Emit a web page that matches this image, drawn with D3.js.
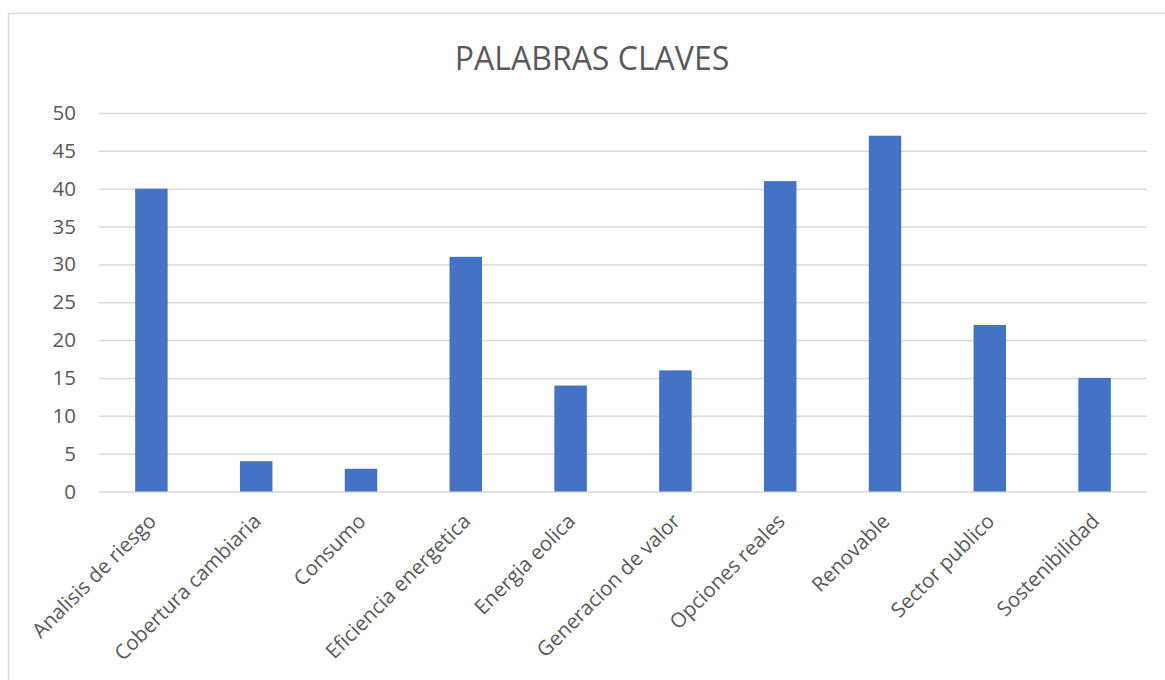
<!DOCTYPE html>
<html>
<head>
<meta charset="utf-8">
<script src="https://cdn.jsdelivr.net/npm/d3@7"></script>
<style>
  body { margin: 0; background: #fff; }
  svg { display: block; font-family: 'Open Sans', sans-serif; }
</style>
</head>
<body>
<svg></svg>
<script>
const categories = ['Analisis de riesgo', 'Cobertura cambiaria', 'Consumo', 'Eficiencia energetica',
  'Energia eolica', 'Generacion de valor', 'Opciones reales', 'Renovable', 'Sector publico', 'Sostenibilidad']
const counts = [40, 4, 3, 31, 14, 16, 41, 47, 22, 15]
const yTicks = [0, 5, 10, 15, 20, 25, 30, 35, 40, 45, 50]

const width = 1165
const height = 680
const plot = { left: 99, right: 1147, top: 113, bottom: 491.5 }

const svg = d3.select('svg')
  .attr('width', width)
  .attr('height', height)

// chart frame
svg.append('rect')
  .attr('x', 8.5)
  .attr('y', 13.5)
  .attr('width', 1170)
  .attr('height', 700)
  .attr('fill', 'white')
  .attr('stroke', '#d9d9d9')
  .attr('stroke-width', 1.5)

const xScale = d3.scaleBand()
  .domain(categories)
  .range([plot.left, plot.right])
  .paddingInner(0.69)
  .paddingOuter(0.345)

const yScale = d3.scaleLinear()
  .domain([0, 50])
  .range([plot.bottom, plot.top])

// gridlines + y labels
const yAxis = d3.axisLeft(yScale)
  .tickValues(yTicks)
  .tickSize(-(plot.right - plot.left))
  .tickPadding(23)

const yax = svg.append('g')
  .attr('transform', `translate(${plot.left}, 0)`)
  .call(yAxis)
yax.select('.domain').remove()
yax.selectAll('line').attr('stroke', '#d9d9d9').attr('stroke-width', 1.5)
yax.selectAll('text')
  .attr('fill', '#595959')
  .style('font-size', '20.5px')
  .style('font-family', "'Open Sans', sans-serif")

svg.selectAll('rect.bar')
  .data(counts)
  .enter()
  .append('rect')
  .attr('class', 'bar')
  .attr('x', (d, i) => xScale(categories[i]))
  .attr('y', d => yScale(d))
  .attr('width', xScale.bandwidth())
  .attr('height', d => yScale(0) - yScale(d))
  .attr('fill', '#4472c4')

// x labels, rotated
const xAxis = d3.axisBottom(xScale).tickSize(0).tickPadding(0)
const xax = svg.append('g')
  .attr('transform', `translate(0, ${plot.bottom})`)
  .call(xAxis)
xax.select('.domain').remove()
xax.selectAll('text')
  .attr('fill', '#595959')
  .style('font-size', '20.5px')
  .style('font-family', "'Open Sans', sans-serif")
  .attr('text-anchor', 'end')
  .attr('dy', '0')
  .attr('y', 0)
  .attr('transform', 'translate(6, 31) rotate(-45)')

svg.append('text')
  .text('PALABRAS CLAVES')
  .attr('x', 592)
  .attr('y', 70)
  .attr('text-anchor', 'middle')
  .attr('fill', '#595959')
  .style('font-size', '32px')
</script>
</body>
</html>
